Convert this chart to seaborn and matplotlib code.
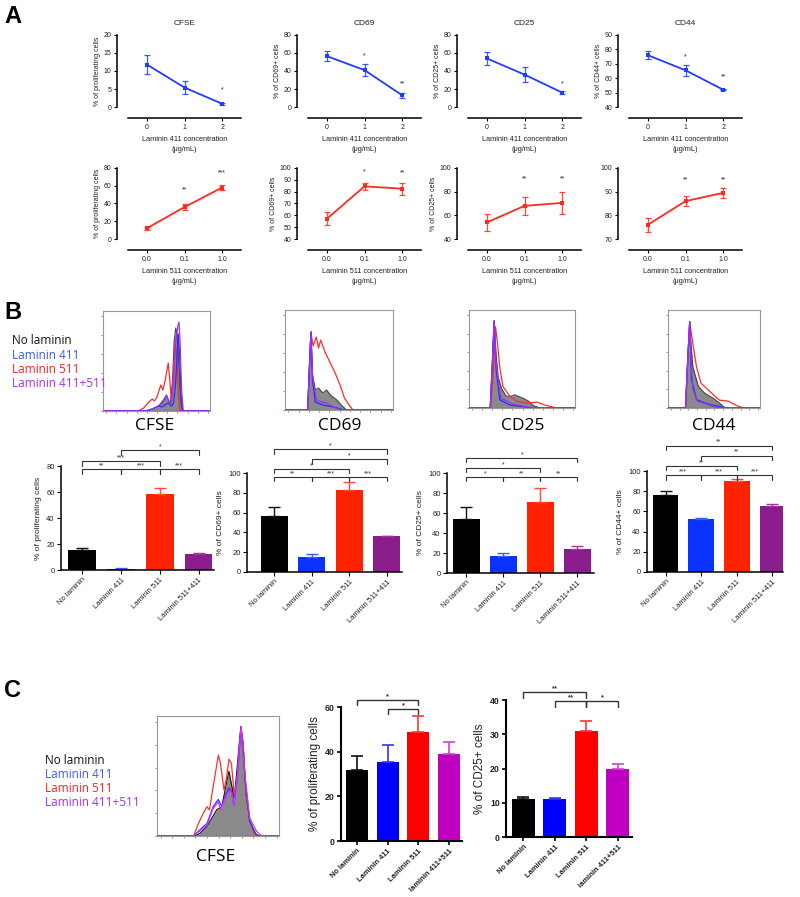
import numpy as np
import pandas as pd
import matplotlib
matplotlib.use("Agg")
import matplotlib.pyplot as plt
import seaborn as sns

sns.set_theme(style="white")
plt.rcParams['font.family'] = ['Liberation Sans', 'DejaVu Sans']

# ---------------- DATA ----------------
markers = ["CFSE", "CD69", "CD25", "CD44"]
ylabels = ["% of proliferating cells", "% of CD69+ cells", "% of CD25+ cells", "% of CD44+ cells"]

# Panel A, row 1 : Laminin 411 dose response
conc_411 = ["0", "1", "2"]
l411_cfse = [11.8, 5.4, 0.9]
l411_cfse_sem = [2.7, 1.9, 0.25]
l411_cd69 = [56.5, 41.0, 13.0]
l411_cd69_sem = [5.5, 6.5, 3.0]
l411_cd25 = [54.0, 36.0, 16.0]
l411_cd25_sem = [7.0, 8.0, 2.0]
l411_cd44 = [76.0, 65.5, 52.0]
l411_cd44_sem = [3.0, 4.0, 0.5]
l411_sig = [["", "", "*"], ["", "*", "**"], ["", "", "*"], ["", "*", "**"]]
l411_sig_y = [[0, 0, 4.7], [0, 56.7, 25.5], [0, 0, 26.0], [0, 75.0, 61.0]]

# Panel A, row 2 : Laminin 511 dose response
conc_511 = ["0.0", "0.1", "1.0"]
l511_cfse = [12.0, 36.0, 58.0]
l511_cfse_sem = [2.0, 3.5, 3.0]
l511_cd69 = [57.0, 84.5, 82.5]
l511_cd69_sem = [5.5, 3.0, 5.0]
l511_cd25 = [54.0, 68.0, 70.5]
l511_cd25_sem = [7.0, 7.5, 9.0]
l511_cd44 = [76.0, 86.0, 89.5]
l511_cd44_sem = [3.0, 2.0, 2.0]
l511_sig = [["", "**", "***"], ["", "*", "**"], ["", "**", "**"], ["", "**", "**"]]
l511_sig_y = [[0, 55.0, 74.0], [0, 96.5, 96.0], [0, 91.0, 91.0], [0, 95.0, 95.0]]

# Panel B : bar charts
groups_b = ["No laminin", "Laminin 411", "Laminin 511", "Laminin 511+411"]
b_cfse = [15.5, 1.0, 58.5, 12.5]
b_cfse_sem = [1.5, 0.3, 4.5, 0.8]
b_cd69 = [57.0, 15.0, 83.0, 36.0]
b_cd69_sem = [8.5, 3.5, 8.0, 0.5]
b_cd25 = [54.5, 17.5, 71.0, 24.0]
b_cd25_sem = [11.0, 2.5, 13.5, 3.0]
b_cd44 = [76.5, 52.5, 90.0, 65.5]
b_cd44_sem = [4.0, 0.8, 2.5, 2.0]
b_cfse_br = [(0, 1, "**", 77.7), (1, 2, "***", 77.7), (2, 3, "***", 77.7), (0, 2, "***", 83.8), (1, 3, "*", 92.3)]
b_cd69_br = [(0, 1, "**", 96), (1, 2, "***", 96), (2, 3, "***", 96), (0, 2, "*", 104), (1, 3, "*", 114), (0, 3, "*", 124)]
b_cd25_br = [(0, 1, "*", 96), (1, 2, "**", 96), (2, 3, "**", 96), (0, 2, "*", 105), (0, 3, "*", 115)]
b_cd44_br = [(0, 1, "***", 96), (1, 2, "***", 96), (2, 3, "***", 96), (0, 2, "**", 105), (1, 3, "**", 115), (0, 3, "**", 125)]

# Panel C : bar charts
groups_c = ["No laminin", "Laminin 411", "Laminin 511", "laminin 411+511"]
c_prolif = [32.0, 35.3, 48.8, 39.0]
c_prolif_sem = [6.0, 7.7, 7.2, 5.3]
c_cd25 = [11.0, 11.0, 31.0, 20.0]
c_cd25_sem = [0.6, 0.4, 3.0, 1.2]
c_prolif_br = [(1, 2, "*", 59.1), (0, 2, "*", 63.1)]
c_cd25_br = [(1, 2, "**", 39.7), (2, 3, "*", 39.7), (0, 2, "**", 42.3)]

legend_labels = ["No laminin", "Laminin 411", "Laminin 511", "Laminin 411+511"]

# Histogram traces (x, y as % of the plot box)
h_cfse_gray_x = [0, 38, 44, 48, 52, 55, 57, 59.4, 61, 63, 65, 66.5, 68, 69.5, 71, 72.5, 74, 100]
h_cfse_gray_y = [0, 0, 1, 3, 5, 9, 12, 16, 11, 8, 30, 70, 83, 75, 45, 12, 0, 0]
h_cfse_red_x = [0, 33, 38, 42, 46, 48, 50.5, 54, 56, 58, 61, 62.5, 64, 66, 67.5, 69, 70.5, 72, 100]
h_cfse_red_y = [0, 0, 3, 8, 12, 10, 14, 26, 21, 30, 48, 30, 9, 45, 70, 50, 15, 0, 0]
h_cfse_blue_x = [0, 40, 46, 50, 52.5, 55, 58, 61, 64, 66, 68, 70.3, 71.5, 73, 74.5, 100]
h_cfse_blue_y = [0, 0, 2, 4, 5, 4, 6, 8, 5, 8, 30, 77, 60, 15, 0, 0]
h_cfse_purp_x = [0, 40, 46, 50, 53, 56, 59.4, 61.5, 63.5, 66, 68, 70, 71, 72, 73.5, 75, 100]
h_cfse_purp_y = [0, 0, 2, 4, 6, 8, 15, 10, 8, 30, 70, 85, 89, 70, 20, 0, 0]

h_cd69_gray_x = [0, 21, 22.5, 24, 25.5, 28, 31, 35, 38.5, 42, 48, 52, 57, 100]
h_cd69_gray_y = [0, 0, 40, 78, 35, 20, 22, 17, 20, 15, 10, 5, 0, 0]
h_cd69_red_x = [0, 21, 22.5, 24, 26, 29, 31, 33, 37, 41.5, 46, 51, 55, 60, 63, 100]
h_cd69_red_y = [0, 0, 40, 78, 64, 73, 62, 70, 58, 48, 38, 25, 12, 4, 0, 0]
h_cd69_blue_x = [0, 21, 22.5, 24, 25.5, 28, 35, 45, 55, 100]
h_cd69_blue_y = [0, 0, 40, 78, 30, 8, 5, 3, 0, 0]
h_cd69_purp_x = [0, 21, 22.5, 24, 25.5, 29, 38, 45, 52, 100]
h_cd69_purp_y = [0, 0, 40, 78, 35, 10, 7, 3, 0, 0]

h_cd25_gray_x = [0, 20, 22, 23.7, 25.5, 27.4, 30.6, 35, 40, 43, 46, 51, 56, 60.6, 67, 100]
h_cd25_gray_y = [0, 0, 45, 89, 55, 32, 20, 12, 12, 13.5, 12, 10, 7, 2.5, 0, 0]
h_cd25_red_x = [0, 20.5, 23, 25, 27, 29, 32, 38.5, 45, 54, 64, 73, 83, 100]
h_cd25_red_y = [0, 0, 40, 83, 65, 42, 22, 12, 7, 5, 6, 2.5, 0, 0]
h_cd25_blue_x = [0, 20, 22, 23.7, 25.5, 29, 38.5, 50, 62, 100]
h_cd25_blue_y = [0, 0, 45, 89, 40, 8.5, 3, 1.5, 0, 0]
h_cd25_purp_x = [0, 20, 22, 23.7, 25.5, 30, 40, 50, 62, 100]
h_cd25_purp_y = [0, 0, 45, 89, 45, 10, 4.5, 2, 0, 0]

h_cd44_gray_x = [0, 19, 21.5, 23.6, 25, 27, 33, 40, 49, 56, 62, 100]
h_cd44_gray_y = [0, 0, 50, 88, 65, 42, 22, 15, 10, 5, 0, 0]
h_cd44_red_x = [0, 19, 21.5, 23.6, 26.5, 31, 36, 42, 51, 56, 65.5, 74.5, 82, 100]
h_cd44_red_y = [0, 0, 50, 88, 69, 42, 25, 20, 12, 8, 7, 2.5, 0, 0]
h_cd44_blue_x = [0, 19, 21.5, 23.6, 25.5, 31, 42, 53, 64, 100]
h_cd44_blue_y = [0, 0, 50, 88, 29, 8.5, 4.5, 2, 0, 0]
h_cd44_purp_x = [0, 19, 21.5, 23.6, 25, 27, 32, 42, 55, 100]
h_cd44_purp_y = [0, 0, 50, 88, 50, 19, 7, 4, 0, 0]

h_c_gray_x = [0, 30, 35, 41, 45, 49, 53, 56.5, 59, 62, 63.3, 65, 67.4, 68.8, 70.6, 73, 76, 80, 84, 100]
h_c_gray_y = [0, 0, 2, 8, 15, 22, 24, 42, 54, 38, 32, 49, 77, 91, 77, 35, 13, 2, 0, 0]
h_c_red_x = [0, 30, 34, 38, 41, 43, 46, 50.3, 52, 55, 57, 59, 61, 63.3, 65.8, 68.8, 70.6, 73, 76, 80, 84, 100]
h_c_red_y = [0, 0, 10.5, 19, 24.4, 21.7, 41, 67.5, 60.5, 38, 49, 64, 60.5, 34, 49, 91, 77, 35, 13, 2, 0, 0]
h_c_blue_x = [0, 30, 35, 41, 46, 50.3, 53, 55.7, 59, 61, 63, 65.8, 68.8, 72, 76, 81.5, 84, 100]
h_c_blue_y = [0, 0, 5, 10.5, 24.4, 30.5, 24.4, 33, 40, 37, 26, 49, 91, 49, 12, 1, 0, 0]
h_c_purp_x = [0, 30, 35, 41, 46, 50.3, 52, 55.7, 59, 61, 63, 65.8, 68.8, 72, 76, 81.5, 86, 100]
h_c_purp_y = [0, 0, 4, 9, 23, 28.5, 21.7, 31, 38, 36, 26, 49, 91, 52, 15, 4, 0, 0]

# ---------------- STYLE ----------------
W, H = 800, 897
fig = plt.figure(figsize=(8, 8.97), dpi=100)
PX = 72 / 100.0  # points per pixel


def rect(x0, y0, x1, y1):
    return [x0 / W, 1 - y1 / H, (x1 - x0) / W, (y1 - y0) / H]


BLUE_A = "#1f3cff"
RED_A = "#ff2a1a"

# ---------------- PANEL A ----------------
a_left = [128, 308, 468, 629]
a411_means = [l411_cfse, l411_cd69, l411_cd25, l411_cd44]
a411_sems = [l411_cfse_sem, l411_cd69_sem, l411_cd25_sem, l411_cd44_sem]
a511_means = [l511_cfse, l511_cd69, l511_cd25, l511_cd44]
a511_sems = [l511_cfse_sem, l511_cd69_sem, l511_cd25_sem, l511_cd44_sem]
a411_ylim = [(0, 20, 5), (0, 80, 20), (0, 80, 20), (40, 90, 10)]
a511_ylim = [(0, 80, 20), (40, 100, 10), (40, 100, 20), (70, 100, 10)]


def a_axes(x0, y0, y1, means, sems, conc, lim, color, ylabel, title, sig, sig_y, xlabel):
    ax = fig.add_axes(rect(x0, y0, x0 + 113, y1))
    df = pd.DataFrame({"x": [0, 1, 2], "y": means})
    sns.lineplot(data=df, x="x", y="y", ax=ax, color=color, lw=1.3, marker="s",
                 markersize=3.2, markeredgewidth=0)
    ax.errorbar([0, 1, 2], means, yerr=sems, fmt="none", ecolor=color, elinewidth=0.9,
                capsize=2.2, capthick=0.9, alpha=0.85)
    ax.set_xlim(-0.5, 2.5)
    ax.set_ylim(lim[0], lim[1])
    ax.set_yticks(np.arange(lim[0], lim[1] + 0.1, lim[2]))
    ax.set_xticks([0, 1, 2])
    ax.set_xticklabels(conc)
    for s in ["top", "right"]:
        ax.spines[s].set_visible(False)
    ax.spines["left"].set_position(("outward", 11 * PX))
    ax.spines["bottom"].set_position(("outward", 11 * PX))
    ax.spines["left"].set_bounds(lim[0], lim[1])
    for s in ["left", "bottom"]:
        ax.spines[s].set_color("black")
        ax.spines[s].set_linewidth(1.1)
    ax.tick_params(axis="both", labelsize=5, length=2.5, width=0.8, pad=1.5,
                   colors="black", labelcolor="#222222", bottom=True, left=True)
    ax.set_ylabel(ylabel, fontsize=5, color="#222222", labelpad=2)
    ax.set_xlabel(xlabel, fontsize=5.3, color="#222222", labelpad=4, linespacing=1.6)
    if title:
        ax.set_title(title, fontsize=6, color="#222222", pad=7)
    for i in range(3):
        if sig[i]:
            ax.text(i, sig_y[i], sig[i], ha="center", va="center", fontsize=5, color="#222222")
    ax.set_facecolor("none")
    return ax


for k in range(4):
    a_axes(a_left[k], 35, 107, a411_means[k], a411_sems[k], conc_411, a411_ylim[k], BLUE_A,
           ylabels[k], markers[k], l411_sig[k], l411_sig_y[k],
           "Laminin 411 concentration\n(\u03bcg/mL)")
    a_axes(a_left[k], 168, 239, a511_means[k], a511_sems[k], conc_511, a511_ylim[k], RED_A,
           ylabels[k] if k < 3 else "", None, l511_sig[k], l511_sig_y[k],
           "Laminin 511 concentration\n(\u03bcg/mL)")

# ---------------- HISTOGRAMS ----------------
H_GRAY = "#8a8a8a"


def hist_axes(box, traces, cols, label, label_xy, edge):
    ax = fig.add_axes(rect(*box))
    gx, gy = traces[0]
    ax.fill_between(gx, gy, 0, color=H_GRAY, lw=0, zorder=1)
    ax.plot(gx, gy, color=edge, lw=0.8, zorder=2)
    for (tx, ty), c, z in zip(traces[1:], cols, [3, 4, 5]):
        sns.lineplot(x=tx, y=ty, ax=ax, color=c, lw=0.9, zorder=z, sort=False)
    ax.plot([0, 100], [0, 0], color="#9a30ff", lw=1.0, zorder=6)
    ax.set_xlim(0, 100)
    ax.set_ylim(0, 100)
    ax.set_xticks(np.arange(3, 100, 9.5))
    ax.set_yticks(np.arange(0, 101, 19))
    ax.tick_params(axis="both", length=1.5, width=0.5, colors="#666666", labelbottom=False,
                   labelleft=False, bottom=True, left=True, direction="out")
    for s in ax.spines.values():
        s.set_color("#999999")
        s.set_linewidth(0.8)
    ax.set_xlabel("")
    ax.set_ylabel("")
    fig.text(label_xy[0] / W, 1 - label_xy[1] / H, label, ha="center", va="center",
             fontsize=12.5, family=["Open Sans", "DejaVu Sans"], color="black")
    return ax


cols_b = ["#ff2a2a", "#2a2aff", "#9a30ff"]
hist_axes((103, 311, 210, 411),
          [(h_cfse_gray_x, h_cfse_gray_y), (h_cfse_red_x, h_cfse_red_y),
           (h_cfse_blue_x, h_cfse_blue_y), (h_cfse_purp_x, h_cfse_purp_y)],
          cols_b, "CFSE", (155, 426), "#444444")
hist_axes((285, 310, 393, 410),
          [(h_cd69_gray_x, h_cd69_gray_y), (h_cd69_red_x, h_cd69_red_y),
           (h_cd69_blue_x, h_cd69_blue_y), (h_cd69_purp_x, h_cd69_purp_y)],
          cols_b, "CD69", (340, 426), "#444444")
hist_axes((469, 310, 575, 408),
          [(h_cd25_gray_x, h_cd25_gray_y), (h_cd25_red_x, h_cd25_red_y),
           (h_cd25_blue_x, h_cd25_blue_y), (h_cd25_purp_x, h_cd25_purp_y)],
          cols_b, "CD25", (523, 426), "#444444")
hist_axes((668, 310, 760, 408),
          [(h_cd44_gray_x, h_cd44_gray_y), (h_cd44_red_x, h_cd44_red_y),
           (h_cd44_blue_x, h_cd44_blue_y), (h_cd44_purp_x, h_cd44_purp_y)],
          cols_b, "CD44", (714, 426), "#444444")
hist_axes((157, 716, 279, 836),
          [(h_c_gray_x, h_c_gray_y), (h_c_red_x, h_c_red_y),
           (h_c_blue_x, h_c_blue_y), (h_c_purp_x, h_c_purp_y)],
          ["#ff3030", "#3333ff", "#d030ff"], "CFSE", (216, 857), "#111111")

leg_cols = ["#111111", "#3a5bff", "#ff2020", "#a530f0"]
for i, (lab, c) in enumerate(zip(legend_labels, leg_cols)):
    fig.text(12 / W, 1 - (341 + 14.3 * i) / H, lab, ha="left", va="center", fontsize=8.5,
             family=["Open Sans", "DejaVu Sans"], color=c)
    fig.text(45 / W, 1 - (760 + 14.3 * i) / H, lab, ha="left", va="center", fontsize=8.5,
             family=["Open Sans", "DejaVu Sans"], color=c)

# ---------------- BAR CHARTS ----------------


def bracket(ax, i, j, y, text, drop, lw, fs, bold=False):
    ax.plot([i, i, j, j], [y - drop, y, y, y - drop], color="#333333", lw=lw,
            clip_on=False, solid_joinstyle="miter")
    ax.text((i + j) / 2, y, text, ha="center", va="bottom", fontsize=fs,
            color="#333333", fontweight="bold" if bold else "normal")


def bar_axes(box, groups, vals, sems, cols, ecols, ylim, ystep, ylabel, brs, xlim,
             big=False):
    ax = fig.add_axes(rect(*box))
    sns.barplot(x=groups, y=vals, hue=groups, palette=cols, legend=False, ax=ax,
                width=0.72, saturation=1, errorbar=None, edgecolor="none")
    for i in range(4):
        ax.errorbar([i], [vals[i]], yerr=[[0], [sems[i]]], fmt="none", ecolor=ecols[i],
                    elinewidth=1.2 if big else 1.0, capsize=4 if big else 4.5,
                    capthick=1.2 if big else 1.0, zorder=1)
    ax.set_xlim(*xlim)
    ax.set_ylim(0, ylim)
    ax.set_yticks(np.arange(0, ylim + 0.1, ystep))
    for s in ["top", "right"]:
        ax.spines[s].set_visible(False)
    for s in ["left", "bottom"]:
        ax.spines[s].set_color("black")
        ax.spines[s].set_linewidth(1.5 if big else 1.1)
    ax.tick_params(axis="both", length=3, width=1.2 if big else 0.8, pad=1.5, colors="black",
                   labelcolor="#222222", bottom=True, left=True)
    ax.tick_params(axis="y", labelsize=6.3 if big else 5.5)
    ax.tick_params(axis="x", labelsize=5.4 if big else 5.5)
    ax.set_xticks(range(4))
    ax.set_xticklabels(groups, rotation=45, ha="right", rotation_mode="anchor",
                       fontweight="bold" if big else "normal")
    if big:
        for t in ax.get_yticklabels():
            t.set_fontweight("bold")
    ax.set_xlabel("")
    ax.set_ylabel(ylabel, fontsize=8.5 if big else 6, color="#222222", labelpad=3)
    drop = ylim * (0.04 if big else 0.045)
    for (i, j, t, y) in brs:
        bracket(ax, i, j, y, t, drop, 1.0 if big else 0.8, 5.5 if big else 5, bold=big)
    ax.set_facecolor("none")
    return ax


cols_bb = ["#000000", "#0a33ff", "#ff2200", "#8b1c8b"]
ecols_bb = ["#111111", "#3a5cff", "#ff4a3a", "#9a3a9a"]
bar_axes((61, 466, 214, 570), groups_b, b_cfse, b_cfse_sem, cols_bb, ecols_bb, 80, 20,
         ylabels[0], b_cfse_br, (-0.55, 3.4))
bar_axes((247, 473, 402, 572), groups_b, b_cd69, b_cd69_sem, cols_bb, ecols_bb, 100, 20,
         ylabels[1], b_cd69_br, (-0.72, 3.4))
bar_axes((447, 473, 594, 573), groups_b, b_cd25, b_cd25_sem, cols_bb, ecols_bb, 100, 20,
         ylabels[2], b_cd25_br, (-0.52, 3.45))
bar_axes((647, 471, 783, 572), groups_b, b_cd44, b_cd44_sem, cols_bb, ecols_bb, 100, 20,
         ylabels[3], b_cd44_br, (-0.52, 3.3))

cols_cc = ["#000000", "#0000ff", "#ff0000", "#c000c0"]
ecols_cc = ["#111111", "#3333ff", "#ff3333", "#d040d0"]
bar_axes((341, 707, 462, 841), groups_c, c_prolif, c_prolif_sem, cols_cc, ecols_cc, 60, 20,
         "% of proliferating cells", c_prolif_br, (-0.52, 3.42), big=True)
bar_axes((506, 700, 632, 837), groups_c, c_cd25, c_cd25_sem, cols_cc, ecols_cc, 40, 10,
         "% of CD25+ cells", c_cd25_br, (-0.55, 3.45), big=True)

# Panel letters
for lab, y in [("A", 5), ("B", 301), ("C", 679)]:
    fig.text(4 / W, 1 - y / H, lab, ha="left", va="top", fontsize=17, fontweight="bold",
             color="black")

fig.savefig("out.png", dpi=100)
